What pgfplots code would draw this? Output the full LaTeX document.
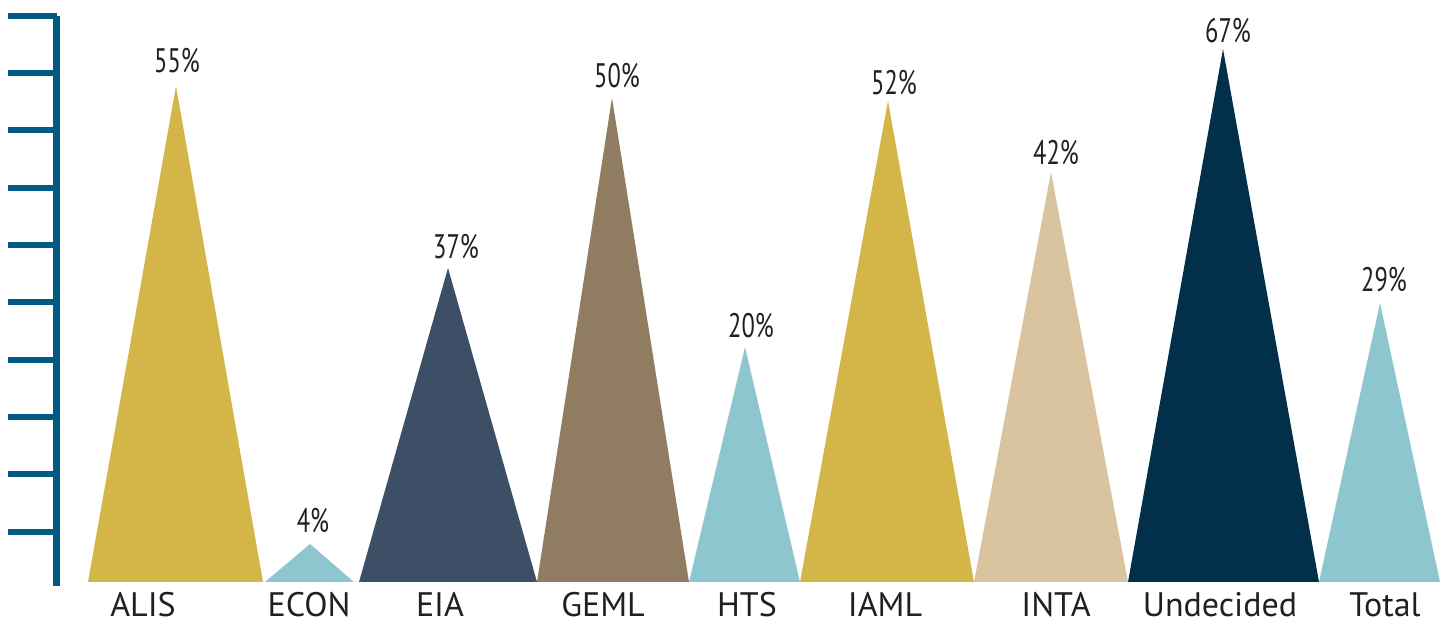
\documentclass[border=0pt]{standalone}
\usepackage{pgfplots}
\pgfplotsset{compat=1.18}
\usepackage{fontspec}
\setmainfont{PT Sans}
\newfontfamily\condfont[FakeStretch=0.72]{PT Sans}

\definecolor{axisblue}{HTML}{005A82}
\definecolor{gold}{HTML}{D4B548}
\definecolor{skyblue}{HTML}{8EC6D0}
\definecolor{slate}{HTML}{3C4F66}
\definecolor{taupe}{HTML}{907C61}
\definecolor{beige}{HTML}{D9C49F}
\definecolor{navy}{HTML}{02304A}
\definecolor{txt}{HTML}{231F20}

\begin{document}
\begin{tikzpicture}
  \begin{axis}[
      x=0.5pt, y=0.5pt,
      xmin=57, xmax=1445,
      ymin=-4, ymax=566,
      clip=false,
      axis y line*=left,
      axis x line*=bottom,
      x axis line style={draw=none},
      y axis line style={-, draw=axisblue, line width=3.5pt},
      tick align=outside,
      major tick length=24.5pt,
      ytick={50,108,165,222,280,337,394,452,509,566},
      yticklabels={},
      yticklabel style={overlay, inner sep=0pt},
      y tick style={draw=axisblue, line width=3pt},
      xtick={143,309,440,603,747,885,1056,1220,1385},
      xticklabels={ALIS,ECON,EIA,GEML,HTS,IAML,INTA,Undecided,Total},
      x tick style={draw=none},
      xticklabel style={anchor=base, yshift=9pt, text=txt,
        font=\fontsize{17}{20}\selectfont},
    ]

    % triangles: left foot, apex, right foot
    \addplot[fill=gold, draw=none]     coordinates {(88,0) (176,496) (263,0)} -- cycle;
    \addplot[fill=skyblue, draw=none]  coordinates {(265,0) (310,38) (354,0)} -- cycle;
    \addplot[fill=slate, draw=none]    coordinates {(359,0) (448,314) (537,0)} -- cycle;
    \addplot[fill=taupe, draw=none]    coordinates {(537,0) (612,484) (689,0)} -- cycle;
    \addplot[fill=skyblue, draw=none]  coordinates {(689,0) (745,235) (800,0)} -- cycle;
    \addplot[fill=gold, draw=none]     coordinates {(800,0) (888,481) (974,0)} -- cycle;
    \addplot[fill=beige, draw=none]    coordinates {(974,0) (1051,410) (1128,0)} -- cycle;
    \addplot[fill=navy, draw=none]     coordinates {(1128,0) (1223,533) (1319,0)} -- cycle;
    \addplot[fill=skyblue, draw=none]  coordinates {(1319,0) (1380,279) (1440,0)} -- cycle;

    % value labels above the apexes
    \addplot[only marks, mark=none,
      nodes near coords, point meta=explicit symbolic,
      every node near coord/.append style={anchor=base, inner sep=0pt,
        text=txt, font=\condfont\fontsize{17}{20}\selectfont}]
      coordinates {
        (177,509)[55\%] (313,49)[4\%] (456,323)[37\%]
        (617,494)[50\%] (751,244)[20\%] (894,487)[52\%]
        (1056,417)[42\%] (1228,539)[67\%] (1384,290)[29\%]
      };

    % page frame
    \path (axis cs:0,-42) rectangle (axis cs:1445,582);
  \end{axis}
\end{tikzpicture}
\end{document}
